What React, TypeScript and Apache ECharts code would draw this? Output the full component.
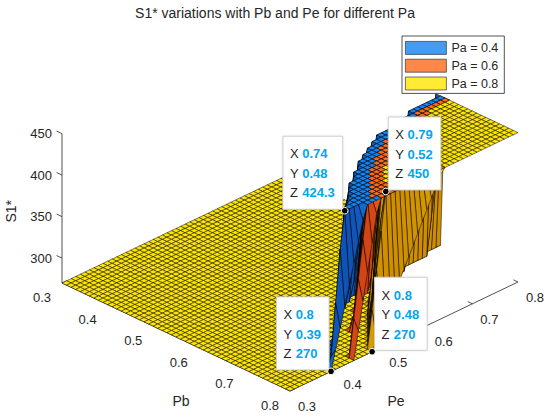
import React, { useEffect, useRef } from "react";
import * as echarts from "echarts";

// ---------------- data ----------------
const TITLE = "S1* variations with Pb and Pe for different Pa";
const SERIES_NAMES = ["Pa = 0.4", "Pa = 0.6", "Pa = 0.8"];
const SERIES_COLORS = ["#1483ec", "#ff6a1a", "#ffe600"];

const PB_TICKS = [0.3, 0.4, 0.5, 0.6, 0.7, 0.8];
const PE_TICKS = [0.3, 0.4, 0.5, 0.6, 0.7, 0.8];
const Z_TICKS = [300, 350, 400, 450];

const PB_MIN = 0.3;
const PB_MAX = 0.8;
const PE_MIN = 0.3;
const PE_MAX = 0.8;
const GRID_STEPS = 50; // 0.01 mesh
const S_FLOOR = 270;
const S_CAP = 450;

// Pb rows where the surfaces leave the 270 floor; for each row the Pe where the
// rise starts and where it reaches 450 (null = flat over the whole row)
const RAMP_ROWS = [0.6, 0.61, 0.62, 0.63, 0.64, 0.65, 0.66, 0.67, 0.68, 0.69, 0.7, 0.71, 0.72, 0.73, 0.74, 0.75, 0.76, 0.77, 0.78, 0.79, 0.8];
const BLUE_RISE_START = [null, null, 0.76, 0.69, 0.635, 0.6, 0.575, 0.555, 0.535, 0.52, 0.515, 0.5, 0.485, 0.47, 0.458, 0.447, 0.436, 0.425, 0.413, 0.398, 0.39];
const BLUE_RISE_END = [null, null, 0.8, 0.73, 0.675, 0.64, 0.615, 0.595, 0.575, 0.56, 0.545, 0.53, 0.515, 0.5, 0.484, 0.473, 0.462, 0.451, 0.439, 0.427, 0.467];
const ORANGE_RISE_START = [null, null, null, 0.76, 0.69, 0.645, 0.615, 0.59, 0.57, 0.555, 0.55, 0.535, 0.52, 0.507, 0.5, 0.49, 0.48, 0.47, 0.46, 0.44, 0.44];
const ORANGE_RISE_END = [null, null, null, 0.8, 0.73, 0.685, 0.655, 0.63, 0.61, 0.595, 0.58, 0.565, 0.55, 0.537, 0.525, 0.515, 0.505, 0.496, 0.488, 0.48, 0.495];
const YELLOW_RISE_START = [null, null, null, null, 0.76, 0.705, 0.66, 0.63, 0.605, 0.585, 0.58, 0.565, 0.552, 0.54, 0.535, 0.525, 0.515, 0.505, 0.495, 0.48, 0.48];
const YELLOW_RISE_END = [null, null, null, null, 0.8, 0.745, 0.7, 0.67, 0.645, 0.625, 0.61, 0.595, 0.582, 0.57, 0.56, 0.55, 0.54, 0.532, 0.526, 0.52, 0.635];

const TIP_PB = [0.74, 0.79, 0.8, 0.8];
const TIP_PE = [0.48, 0.52, 0.39, 0.48];
const TIP_S = [424.3, 450, 270, 270];
const TIP_SIDE = ["left", "right", "left", "right"];

// ---------------- view (orthographic 3-D box) ----------------
const VIEW = { ox: 62, oy: 283, pbDx: 456, pbDy: 216, peDx: 456, peDy: -218, zDy: -0.83 };
const BOX_H = 645; // horizontal length of one unit of Pb / Pe
const BOX_Z = 0.94; // vertical length of one unit of S1*
const FONT = '"Liberation Sans", Arial, Helvetica, sans-serif';

function project(pb: number, pe: number, z: number): number[] {
  const a = pb - PB_MIN;
  const b = pe - PE_MIN;
  const c = z - S_FLOOR;
  return [VIEW.ox + a * VIEW.pbDx + b * VIEW.peDx, VIEW.oy + a * VIEW.pbDy + b * VIEW.peDy + c * VIEW.zDy];
}

const STARTS = [BLUE_RISE_START, ORANGE_RISE_START, YELLOW_RISE_START];
const ENDS = [BLUE_RISE_END, ORANGE_RISE_END, YELLOW_RISE_END];

const PB_GRID = Array.from({ length: GRID_STEPS + 1 }, (_, i) => PB_MIN + ((PB_MAX - PB_MIN) * i) / GRID_STEPS);
const PE_GRID = Array.from({ length: GRID_STEPS + 1 }, (_, j) => PE_MIN + ((PE_MAX - PE_MIN) * j) / GRID_STEPS);

function surfaceValue(k: number, pb: number, pe: number): number {
  const r = RAMP_ROWS.findIndex((v) => Math.abs(v - pb) < 1e-6);
  if (r < 0) return S_FLOOR;
  const s = STARTS[k][r];
  const e = ENDS[k][r];
  if (s == null || e == null) return S_FLOOR;
  const t = Math.min(1, Math.max(0, (pe - s) / (e - s)));
  return S_FLOOR + (S_CAP - S_FLOOR) * t;
}

function unit(p: number[], q: number[], len: number): number[] {
  const dx = q[0] - p[0];
  const dy = q[1] - p[1];
  const d = Math.hypot(dx, dy) || 1;
  return [(dx / d) * len, (dy / d) * len];
}

function hexToRgb(h: string): number[] {
  const n = parseInt(h.slice(1), 16);
  return [(n >> 16) & 255, (n >> 8) & 255, n & 255];
}

// steep faces are darker (like the lit walls of the original figure)
function shadeColor(hex: string, c: number): string {
  const [r, g, b] = hexToRgb(hex);
  const fr = 0.8 + 0.2 * c;
  const fg = 0.6 + 0.4 * c;
  const fb = 0.75 + 0.25 * c;
  return `rgb(${Math.round(r * fr)},${Math.round(g * fg)},${Math.round(b * fb)})`;
}

let measureCtx: CanvasRenderingContext2D | null = null;
function textWidth(text: string, font: string): number {
  if (!measureCtx) measureCtx = document.createElement("canvas").getContext("2d");
  if (!measureCtx) return text.length * 7;
  measureCtx.font = font;
  return measureCtx.measureText(text).width;
}

function buildOption() {
  const zGrid = [0, 1, 2].map((k) => PB_GRID.map((pb) => PE_GRID.map((pe) => surfaceValue(k, pb, pe))));

  type Cell = { near: number; mean: number; k: number; i: number; j: number; flat: number };
  const cells: Cell[] = [];
  for (let i = 0; i < GRID_STEPS; i++) {
    for (let j = 0; j < GRID_STEPS; j++) {
      const yc = [zGrid[2][i][j], zGrid[2][i + 1][j], zGrid[2][i + 1][j + 1], zGrid[2][i][j + 1]];
      for (let k = 0; k < 3; k++) {
        const c = [zGrid[k][i][j], zGrid[k][i + 1][j], zGrid[k][i + 1][j + 1], zGrid[k][i][j + 1]];
        if (k < 2 && c.every((v, n) => Math.abs(v - yc[n]) < 1e-9)) continue;
        const mean = (c[0] + c[1] + c[2] + c[3]) / 4;
        const h = (PB_GRID[1] - PB_GRID[0]) * BOX_H;
        const d1 = [h, h, (c[2] - c[0]) * BOX_Z];
        const d2 = [-h, h, (c[3] - c[1]) * BOX_Z];
        const nx = d1[1] * d2[2] - d1[2] * d2[1];
        const ny = d1[2] * d2[0] - d1[0] * d2[2];
        const nz = d1[0] * d2[1] - d1[1] * d2[0];
        const flat = Math.abs(nz) / (Math.hypot(nx, ny, nz) || 1);
        cells.push({ near: i - j, mean, k, i, j, flat });
      }
    }
  }
  cells.sort((a, b) => a.near - b.near || a.mean - b.mean || a.k - b.k);
  const cellData = cells.map((c) => {
    const p = project((PB_GRID[c.i] + PB_GRID[c.i + 1]) / 2, (PE_GRID[c.j] + PE_GRID[c.j + 1]) / 2, c.mean);
    return [p[0], p[1], c.k, c.i, c.j, c.flat];
  });

  const axisData: number[][] = [
    ...PB_TICKS.map((v, n) => [0, v, n]),
    ...PE_TICKS.map((v, n) => [1, v, n]),
    ...Z_TICKS.map((v, n) => [2, v, n]),
  ];

  const tipData = TIP_PB.map((pb, n) => [pb, TIP_PE[n], TIP_S[n], n]);

  const textEl = (text: string, x: number, y: number, size: number, align: string, vAlign: string, extra: any = {}) => ({
    type: "text",
    style: {
      text,
      x,
      y,
      fill: extra.fill || "#262626",
      font: `${extra.fontWeight || "normal"} ${size}px ${FONT}`,
      fontSize: size,
      fontFamily: FONT,
      fontWeight: extra.fontWeight || "normal",
      align,
      textAlign: align,
      verticalAlign: vAlign,
      textVerticalAlign: vAlign,
    },
  });

  const TIP_FONT = 13;
  const TIP_LINE = 19.5;
  const TIP_PAD_L = 7;
  const TIP_PAD_R = 8;
  const TIP_PAD_T = 8;
  const TIP_PAD_B = 6.5;

  return {
    animation: false,
    backgroundColor: "#ffffff",
    title: {
      text: TITLE,
      left: "center",
      top: 1,
      textStyle: { fontSize: 14, fontWeight: "normal", color: "#262626", fontFamily: FONT },
    },
    legend: {
      data: SERIES_NAMES,
      orient: "vertical",
      left: 402,
      top: 36,
      icon: "rect",
      itemWidth: 41,
      itemHeight: 13,
      itemGap: 4,
      padding: [5, 6, 3, 3],
      borderColor: "#262626",
      borderWidth: 0.8,
      backgroundColor: "#ffffff",
      selectedMode: false,
      itemStyle: { borderColor: "#262626", borderWidth: 0.8 },
      textStyle: { fontSize: 12.5, color: "#262626", fontFamily: FONT },
    },
    grid: { left: 0, right: 0, top: 0, bottom: 0, containLabel: false },
    xAxis: { type: "value", min: 0, max: 550, show: false },
    yAxis: { type: "value", min: 0, max: 419, inverse: true, show: false },
    series: [
      ...SERIES_NAMES.map((name, k) => ({
        name,
        type: "scatter",
        data: [],
        itemStyle: { color: SERIES_COLORS[k], borderColor: "#262626", borderWidth: 0.8 },
      })),
      {
        type: "custom",
        name: "axes",
        silent: true,
        clip: false,
        z: 1,
        data: axisData,
        renderItem: (_params: any, api: any) => {
          const axis = api.value(0);
          const v = api.value(1);
          const n = api.value(2);
          const children: any[] = [];
          const stroke = { stroke: "#262626", lineWidth: 0.8 };
          if (axis === 0) {
            const p = api.coord(project(v, PE_MIN, S_FLOOR));
            const d = unit(p, api.coord(project(v, PE_MIN + 0.1, S_FLOOR)), 5);
            if (n === 0) {
              const a = api.coord(project(PB_MIN, PE_MIN, S_FLOOR));
              const b = api.coord(project(PB_MAX, PE_MIN, S_FLOOR));
              children.push({ type: "line", shape: { x1: a[0], y1: a[1], x2: b[0], y2: b[1] }, style: stroke });
              const m = api.coord(project((PB_MIN + PB_MAX) / 2, PE_MIN, S_FLOOR));
              children.push(textEl("Pb", m[0] + 5, m[1] + 64, 14, "center", "middle"));
            }
            children.push({ type: "line", shape: { x1: p[0], y1: p[1], x2: p[0] + d[0], y2: p[1] + d[1] }, style: stroke });
            children.push(textEl(v.toFixed(1), p[0] - 20, p[1] + 14.5, 13, "center", "middle"));
          } else if (axis === 1) {
            const p = api.coord(project(PB_MAX, v, S_FLOOR));
            const d = unit(p, api.coord(project(PB_MAX - 0.1, v, S_FLOOR)), 5);
            if (n === 0) {
              const a = api.coord(project(PB_MAX, PE_MIN, S_FLOOR));
              const b = api.coord(project(PB_MAX, PE_MAX, S_FLOOR));
              children.push({ type: "line", shape: { x1: a[0], y1: a[1], x2: b[0], y2: b[1] }, style: stroke });
              const m = api.coord(project(PB_MAX, (PE_MIN + PE_MAX) / 2, S_FLOOR));
              children.push(textEl("Pe", m[0] - 8, m[1] + 64, 14, "center", "middle"));
            }
            children.push({ type: "line", shape: { x1: p[0], y1: p[1], x2: p[0] + d[0], y2: p[1] + d[1] }, style: stroke });
            children.push(textEl(v.toFixed(1), p[0] + 17, p[1] + 15.5, 13, "center", "middle"));
          } else {
            const p = api.coord(project(PB_MIN, PE_MIN, v));
            const d = unit(p, api.coord(project(PB_MIN - 0.1, PE_MIN, v)), 6);
            if (n === 0) {
              const a = api.coord(project(PB_MIN, PE_MIN, S_FLOOR));
              const b = api.coord(project(PB_MIN, PE_MIN, S_CAP));
              children.push({ type: "line", shape: { x1: a[0], y1: a[1], x2: b[0], y2: b[1] }, style: stroke });
              const m = api.coord(project(PB_MIN, PE_MIN, (S_FLOOR + S_CAP) / 2));
              const lab: any = textEl("S1*", 0, 0, 14, "center", "middle");
              lab.x = m[0] - 51;
              lab.y = m[1] + 3;
              lab.rotation = Math.PI / 2;
              children.push(lab);
            }
            children.push({ type: "line", shape: { x1: p[0], y1: p[1], x2: p[0] + d[0], y2: p[1] + d[1] }, style: stroke });
            children.push(textEl(String(v), p[0] - 10, p[1], 13, "right", "middle"));
          }
          return { type: "group", children };
        },
      },
      {
        type: "custom",
        name: "surface",
        silent: true,
        clip: false,
        progressive: 0,
        z: 2,
        data: cellData,
        renderItem: (_params: any, api: any) => {
          const k = api.value(2);
          const i = api.value(3);
          const j = api.value(4);
          const flat = api.value(5);
          const corners = [
            [i, j],
            [i + 1, j],
            [i + 1, j + 1],
            [i, j + 1],
          ];
          const points = corners.map(([a, b]) => api.coord(project(PB_GRID[a], PE_GRID[b], zGrid[k][a][b])));
          return {
            type: "polygon",
            shape: { points },
            style: { fill: shadeColor(SERIES_COLORS[k], flat), stroke: "#000000", lineWidth: 0.5 },
          };
        },
      },
      {
        type: "custom",
        name: "datatips",
        silent: true,
        clip: false,
        z: 3,
        data: tipData,
        renderItem: (_params: any, api: any) => {
          const pb = api.value(0);
          const pe = api.value(1);
          const s = api.value(2);
          const n = api.value(3);
          const p = api.coord(project(pb, pe, s));
          const left = TIP_SIDE[n] === "left";
          const rows = [
            ["X", String(pb)],
            ["Y", String(pe)],
            ["Z", String(s)],
          ];
          const labFont = `normal ${TIP_FONT}px ${FONT}`;
          const valFont = `bold ${TIP_FONT}px ${FONT}`;
          const labW = Math.max(...rows.map((r) => textWidth(r[0] + " ", labFont)));
          const contentW = Math.max(...rows.map((r) => labW + textWidth(r[1], valFont)));
          const w = TIP_PAD_L + contentW + TIP_PAD_R;
          const h = TIP_PAD_T + TIP_LINE * 3 + TIP_PAD_B;
          const bx = left ? p[0] - 2 - w : p[0] + 2.5;
          const by = p[1] - 1.5 - h;
          const children: any[] = [
            {
              type: "rect",
              shape: { x: bx, y: by, width: w, height: h },
              style: { fill: "#ffffff", stroke: "#cfcfcf", lineWidth: 1, shadowBlur: 2, shadowColor: "rgba(0,0,0,0.12)" },
            },
          ];
          rows.forEach((r, m) => {
            const ty = by + TIP_PAD_T + TIP_LINE * (m + 0.5);
            children.push(textEl(r[0], bx + TIP_PAD_L, ty, TIP_FONT, "left", "middle"));
            children.push(
              textEl(r[1], bx + TIP_PAD_L + labW, ty, TIP_FONT, "left", "middle", { fontWeight: "bold", fill: "#00a6f0" })
            );
          });
          children.push({
            type: "circle",
            shape: { cx: p[0], cy: p[1], r: 3.3 },
            style: { fill: "#000000", stroke: "#ffffff", lineWidth: 1 },
          });
          return { type: "group", children };
        },
      },
    ],
  };
}

export default function App() {
  const ref = useRef<HTMLDivElement>(null);
  useEffect(() => {
    if (!ref.current) return;
    const chart = echarts.init(ref.current, null, { renderer: "svg" });
    chart.setOption(buildOption() as any);
    return () => chart.dispose();
  }, []);
  return (
    <div
      ref={ref}
      style={{ position: "fixed", left: 0, top: 0, width: 550, height: 419, background: "#ffffff" }}
    />
  );
}
